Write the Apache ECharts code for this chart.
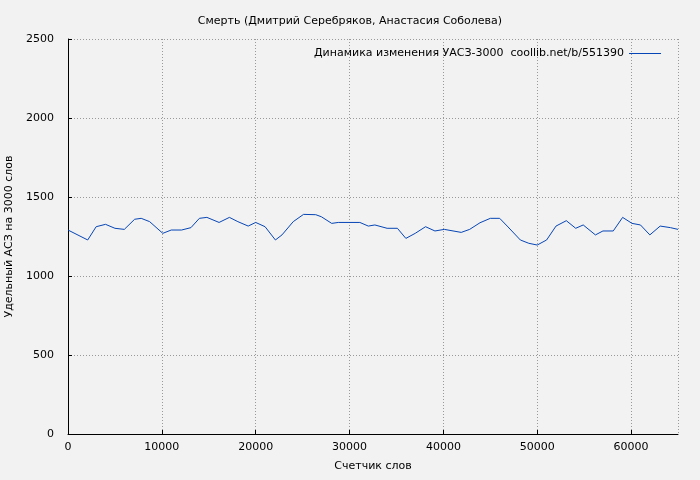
<!DOCTYPE html>
<html><head><meta charset="utf-8">
<script src="https://cdn.jsdelivr.net/npm/echarts@6/dist/echarts.min.js"></script>
<style>html,body{margin:0;background:#f2f2f2}#main{width:700px;height:480px}</style>
</head><body><div id="main"></div>
<script>
var words = [0,2100,3000,4000,5000,6000,7100,7800,8700,10100,11000,12100,13100,14000,14800,16100,17200,18100,19200,20000,21000,22100,22800,24000,25100,26400,27000,28100,28800,31100,32000,32700,34000,35100,36000,37000,38100,39100,40100,41900,42800,43900,45000,46000,46800,48200,49100,50000,51000,52000,53100,54100,54900,56200,57000,58100,59100,60100,61000,62000,63100,64200,65000];
var uacs = [1291,1228,1312,1327,1302,1295,1359,1365,1344,1270,1291,1291,1306,1365,1371,1339,1371,1344,1316,1339,1312,1228,1260,1344,1390,1388,1375,1333,1339,1339,1316,1323,1302,1302,1238,1270,1312,1285,1295,1276,1295,1337,1365,1365,1316,1228,1207,1196,1228,1316,1350,1302,1323,1260,1285,1285,1371,1333,1323,1260,1316,1306,1295];
var seriesName = 'Динамика изменения УАСЗ-3000  coollib.net/b/551390';
var font = 'DejaVu Sans';
var lineColor = '#0645b5';
var myChart = echarts.init(document.getElementById('main'));
var gridLine = {show: true, lineStyle: {color: '#999', type: [1, 2], width: 1}};
var plain = function (v) { return String(v); };
myChart.setOption({
    backgroundColor: '#f2f2f2',
    animation: false,
    title: {text: 'Смерть (Дмитрий Серебряков, Анастасия Соболева)', left: 'center', top: 11,
        textStyle: {fontFamily: font, fontSize: 11, fontWeight: 'normal', color: '#000'}},
    legend: {right: 34, top: 43, itemWidth: 32, itemHeight: 1, itemGap: 8, align: 'right',
        textStyle: {fontFamily: font, fontSize: 11, color: '#000'},
        data: [{name: seriesName, icon: 'rect', itemStyle: {color: lineColor}}]},
    grid: {left: 68, right: 22, top: 39, bottom: 46, containLabel: false, outerBoundsMode: 'none'},
    xAxis: {type: 'value', min: 0, max: 65000, interval: 10000, name: 'Счетчик слов',
        nameLocation: 'middle', nameGap: 27, nameTextStyle: {fontFamily: font, fontSize: 11, color: '#000'},
        axisLine: {onZero: false, lineStyle: {color: '#000'}}, axisTick: {inside: true, length: 4, lineStyle: {color: '#000'}},
        axisLabel: {fontFamily: font, fontSize: 11, color: '#000', margin: 8, showMaxLabel: false, formatter: plain},
        splitLine: gridLine},
    yAxis: {type: 'value', min: 0, max: 2500, interval: 500, name: 'Удельный АСЗ на 3000 слов',
        nameLocation: 'middle', nameGap: 52, nameTextStyle: {fontFamily: font, fontSize: 11, color: '#000'},
        axisLine: {show: true, lineStyle: {color: '#000'}}, axisTick: {inside: true, length: 4, lineStyle: {color: '#000'}},
        axisLabel: {fontFamily: font, fontSize: 11, color: '#000', margin: 14, formatter: plain},
        splitLine: gridLine},
    series: [{name: seriesName, type: 'line', symbol: 'none', color: lineColor,
        lineStyle: {width: 1}, data: words.map(function (w, i) { return [w, uacs[i]]; })}]
});
</script></body></html>
